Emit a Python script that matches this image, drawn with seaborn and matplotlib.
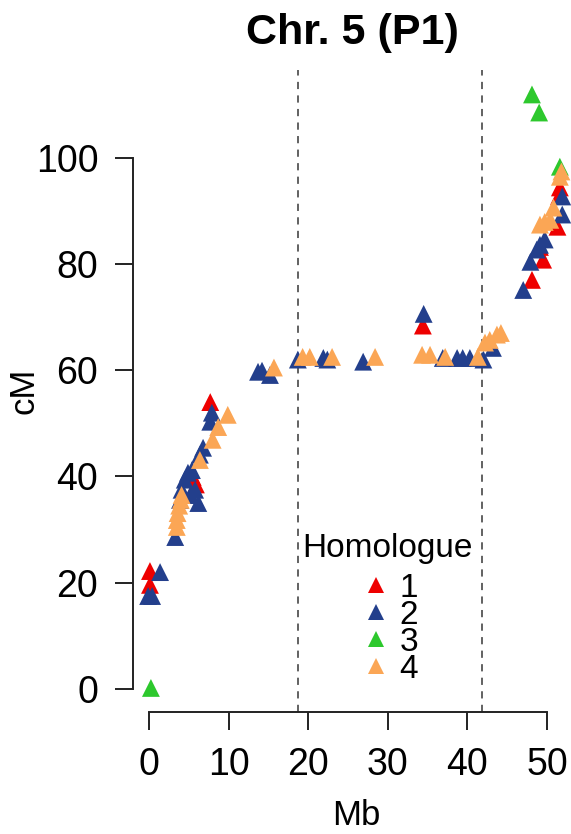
import matplotlib
matplotlib.use("Agg")
import matplotlib.pyplot as plt
import seaborn as sns
import pandas as pd

# ---- data (Mb, cM) per homologue ----
h1_mb = [0.13, 0.13, 5.5, 5.9, 7.7, 34.4, 48.1, 49.1, 49.5, 51.3, 51.5, 51.6]
h1_cm = [22.2, 19.6, 39.9, 38.5, 54.0, 68.4, 77.0, 83.2, 80.8, 87.0, 92.8, 94.4]

h2_mb = [-0.1, 0.4, 1.4, 3.3, 3.9, 4.1, 4.5, 4.9, 5.4, 5.8, 6.2, 5.2, 6.4, 6.8,
         7.9, 7.7, 13.7, 14.2, 15.2, 18.7, 21.9, 22.4, 26.9, 34.5, 36.9, 38.7,
         39.4, 40.3, 42.0, 43.2, 47.0, 47.9, 48.7, 49.1, 49.7, 51.9, 51.9]
h2_cm = [17.5, 17.5, 22.0, 28.6, 35.6, 37.5, 39.4, 40.7, 41.2, 37.5, 35.0, 36.5,
         44.1, 45.4, 52.0, 50.3, 59.7, 59.9, 59.1, 62.0, 62.3, 62.0, 61.6, 70.6,
         62.3, 62.3, 62.3, 62.3, 62.0, 64.2, 75.1, 80.4, 82.7, 83.6, 84.6, 89.3, 92.7]

h3_mb = [0.25, 48.1, 49.0, 51.6]
h3_cm = [0.2, 111.9, 108.5, 98.3]

h4_mb = [3.5, 3.5, 3.6, 3.8, 4.0, 4.1, 6.4, 8.0, 8.7, 9.9, 15.7, 19.3, 20.2,
         23.0, 28.4, 34.3, 35.3, 37.2, 41.3, 42.2, 42.8, 43.7, 44.2, 49.1,
         49.7, 50.4, 50.8, 51.6, 51.8]
h4_cm = [30.5, 31.8, 33.1, 34.5, 35.6, 36.5, 43.1, 46.9, 49.3, 51.6, 60.5, 62.5,
         62.5, 62.5, 62.5, 62.9, 62.9, 62.5, 62.5, 65.2, 65.7, 66.7, 67.0, 87.4,
         87.9, 88.3, 90.6, 96.4, 97.4]

homologues = ["1", "2", "3", "4"]
palette = ["#EE0000", "#233F8C", "#2DC82D", "#FBA655"]
boundaries = [18.7, 41.8]
x_ticks = [0, 10, 20, 30, 40, 50]
y_ticks = [0, 20, 40, 60, 80, 100]

rows = []
for h, mbs, cms in zip(homologues, [h1_mb, h2_mb, h3_mb, h4_mb],
                       [h1_cm, h2_cm, h3_cm, h4_cm]):
    for m, c in zip(mbs, cms):
        rows.append({"Mb": m, "cM": c, "Homologue": h})
df = pd.DataFrame(rows)

sns.set_style("ticks")
plt.rcParams["font.family"] = ["Liberation Sans", "DejaVu Sans"]
plt.rcParams["text.color"] = "black"
plt.rcParams["axes.labelcolor"] = "black"

fig = plt.figure(figsize=(5.71, 8.34), dpi=100)
ax = fig.add_axes([133 / 571, (834 - 712) / 834, 438 / 571, 642 / 834])

for b in boundaries:
    ax.axvline(b, color="#555555", lw=1.3, ls=(0, (4, 3.5)), zorder=1)

sns.scatterplot(data=df, x="Mb", y="cM", hue="Homologue", hue_order=homologues,
                palette=palette, marker="^", s=165, linewidth=0, ax=ax,
                zorder=3, legend=True)

ax.set_xlim(-2.0, 53.0)
ax.set_ylim(-4.33, 116.5)
ax.set_xticks(x_ticks)
ax.set_yticks(y_ticks)
for s in ["top", "right"]:
    ax.spines[s].set_visible(False)
ax.spines["left"].set_bounds(0, 100)
ax.spines["bottom"].set_bounds(0, 50)
for s in ["left", "bottom"]:
    ax.spines[s].set_linewidth(1.4)
    ax.spines[s].set_color("#222222")
ax.tick_params(axis="both", length=13, width=1.4, color="#222222",
               labelsize=27, labelcolor="black", bottom=True, left=True)
ax.tick_params(axis="y", pad=12)
ax.tick_params(axis="x", pad=12.5)

ax.set_xlabel("Mb", fontsize=25, color="black")
ax.set_ylabel("cM", fontsize=25, color="black")
ax.xaxis.set_label_coords((356 - 133) / 438, -0.135)
ax.yaxis.set_label_coords(-0.212, 0.5)

ax.set_title("Chr. 5 (P1)", fontsize=31, fontweight="bold", pad=19, color="black")

handles, labels = ax.get_legend_handles_labels()
for hd in handles:
    hd.set_markersize(12)
    hd.set_markeredgewidth(0)
leg = ax.legend(handles, labels, frameon=False,
                loc="upper left", bbox_to_anchor=((366 - 133) / 438, (712 - 573) / 642),
                borderaxespad=0, borderpad=0, fontsize=24,
                handlelength=0.6, handletextpad=0.4, labelspacing=-0.12)
ax.text((387.5 - 133) / 438, (712 - 557) / 642, "Homologue", transform=ax.transAxes,
        ha="center", va="baseline", fontsize=24, color="black")

fig.savefig("out.png", dpi=100)
